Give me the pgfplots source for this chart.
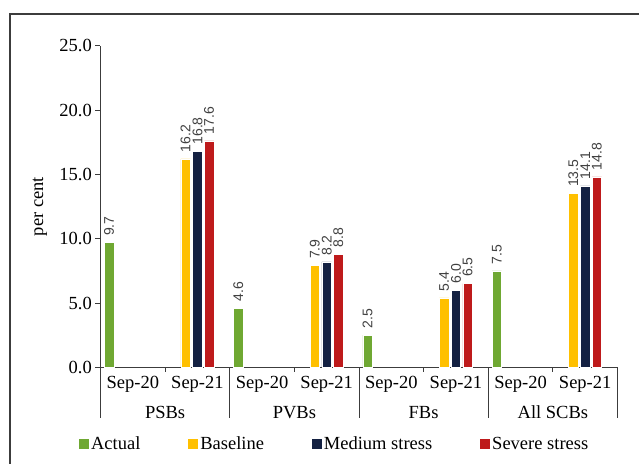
\documentclass[border=0pt]{standalone}
\usepackage{fontspec}
\setmainfont{Liberation Serif}
\newfontfamily\lsans{Liberation Sans}
\usepackage{pgfplots}
\pgfplotsset{compat=1.18}

\definecolor{cActual}{RGB}{111,168,50}
\definecolor{cBase}{RGB}{255,192,0}
\definecolor{cMed}{RGB}{20,33,66}
\definecolor{cSev}{RGB}{190,26,27}
\definecolor{cLine}{RGB}{60,60,60}

\newcommand\lbl{\fontsize{18.5}{21}\selectfont}

\pgfplotsset{
  sqleg/.style={legend image code/.code={\fill[##1] (0pt,-5pt) rectangle (10.5pt,5.5pt);}},
  vlab/.style={every node near coord/.style={xshift=#1, rotate=90, anchor=west,
     font=\lsans\fontsize{14}{15}\selectfont, text=black!75,
     inner xsep=6.5pt, inner ysep=0pt}},
}

\begin{document}
\begin{tikzpicture}
\useasboundingbox (-100.5pt,-95.7pt) rectangle (538.5pt,367.3pt);
% outer frame (left and top edges only visible)
\draw[line width=1.7pt, cLine] (-90.5pt,-100pt) -- (-90.5pt,353.3pt) -- (545pt,353.3pt);

\begin{axis}[
  scale only axis,
  width=517pt, height=321.6pt,
  xmin=-0.5, xmax=7.5,
  ymin=0, ymax=25,
  clip=false,
  axis x line*=bottom, axis y line*=left,
  axis line style={-, cLine, line width=0.8pt},
  xtick=\empty,
  ytick={0,5,...,25},
  tick style={cLine, line width=0.8pt},
  tick align=outside,
  major tick length=5pt,
  yticklabel style={font=\lbl, inner xsep=0pt, xshift=-3.5pt},
  /pgf/number format/fixed,
  /pgf/number format/fixed zerofill,
  /pgf/number format/precision=1,
  /pgf/number format/assume math mode=true,
  ylabel={per cent},
  every axis y label/.style={at={(axis description cs:-0.117,0.5)}, rotate=90, anchor=center, font=\lbl},
  nodes near coords,
  legend columns=4,
  legend style={draw=none, fill=none, font=\lbl, inner sep=0pt,
     at={(axis description cs:-0.0435,-0.2385)}, anchor=west,
     nodes={inner sep=2pt},
     /tikz/every even column/.append style={column sep=45pt}},
]
\addplot[ybar, bar width=9.5pt, bar shift=-23.7pt, fill=cActual, draw=white, line width=0.4pt, sqleg, vlab=-23.7pt]
  coordinates {(0,9.7) (2,4.6) (4,2.5) (6,7.5)};
\addlegendentry{Actual}
\addplot[ybar, bar width=9.5pt, bar shift=-11.9pt, fill=cBase, draw=white, line width=0.4pt, sqleg, vlab=-11.9pt]
  coordinates {(1,16.2) (3,7.9) (5,5.4) (7,13.5)};
\addlegendentry{Baseline}
\addplot[ybar, bar width=9.5pt, bar shift=0pt, fill=cMed, draw=white, line width=0.4pt, sqleg, vlab=0pt]
  coordinates {(1,16.8) (3,8.2) (5,6.0) (7,14.1)};
\addlegendentry{Medium stress}
\addplot[ybar, bar width=9.5pt, bar shift=11.6pt, fill=cSev, draw=white, line width=0.4pt, sqleg, vlab=11.6pt]
  coordinates {(1,17.6) (3,8.8) (5,6.5) (7,14.8)};
\addlegendentry{Severe stress}

% category separators and sub-ticks
\pgfplotsinvokeforeach{-0.5,1.5,3.5,5.5,7.5}{
  \draw[cLine, line width=0.8pt] (axis cs:#1,0) -- ++(0pt,-51pt);
}
\pgfplotsinvokeforeach{0.5,2.5,4.5,6.5}{
  \draw[cLine, line width=0.8pt] (axis cs:#1,0) -- ++(0pt,-5pt);
}
% period labels
\pgfplotsinvokeforeach{0,2,4,6}{
  \node[font=\lbl, anchor=base, inner sep=0pt, yshift=-21pt] at (axis cs:#1,0) {Sep-20};
}
\pgfplotsinvokeforeach{1,3,5,7}{
  \node[font=\lbl, anchor=base, inner sep=0pt, yshift=-21pt] at (axis cs:#1,0) {Sep-21};
}
% group labels
\node[font=\lbl, anchor=base, inner sep=0pt, yshift=-51pt] at (axis cs:0.5,0) {PSBs};
\node[font=\lbl, anchor=base, inner sep=0pt, yshift=-51pt] at (axis cs:2.5,0) {PVBs};
\node[font=\lbl, anchor=base, inner sep=0pt, yshift=-51pt] at (axis cs:4.5,0) {FBs};
\node[font=\lbl, anchor=base, inner sep=0pt, yshift=-51pt] at (axis cs:6.5,0) {All SCBs};
\end{axis}
\end{tikzpicture}
\end{document}
